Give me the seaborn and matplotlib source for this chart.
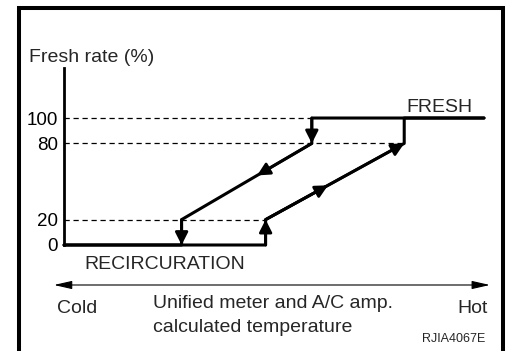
import matplotlib
matplotlib.use("Agg")
import matplotlib.pyplot as plt
from matplotlib.lines import Line2D
import seaborn as sns

# fresh rate levels shown on the y axis
rate_levels = [0, 20, 80, 100]
rate_labels = ["0", "20", "80", "100"]

# temperature going up: recirc -> fresh
heat_x = [0, 48, 48, 81, 81, 100]
heat_y = [0, 0, 20, 80, 100, 100]
# temperature going down: fresh -> recirc
cool_x = [100, 59, 59, 28, 28, 0]
cool_y = [100, 100, 80, 20, 0, 0]

# dashed guides (level, where they stop)
guide_y = [100, 80, 20]
guide_end = [59, 81, 48]

# arrow heads: segment start, segment end, where the tip sits along it
arrows = [
    ((48, 0), (48, 20), 1.0),
    ((48, 20), (81, 80), 0.45),
    ((48, 20), (81, 80), 1.0),
    ((59, 100), (59, 80), 1.0),
    ((59, 80), (28, 20), 0.42),
    ((28, 20), (28, 0), 1.0),
]

sns.set_theme(style="white")
plt.rcParams["font.family"] = ["Liberation Sans", "DejaVu Sans"]

fig = plt.figure(figsize=(5.08, 3.51), dpi=100)
fig.patch.set_facecolor("white")
ax = fig.add_axes([0.1260, 0.3020, 0.8268, 0.5043])
ax.set_xlim(0, 100)
ax.set_ylim(0, 139.4)

# outer frame (open at the bottom)
fig.add_artist(Line2D([0.0374, 0.0374, 0.9905, 0.9905], [0, 0.9786, 0.9786, 0],
                      transform=fig.transFigure, lw=2.9, color="black",
                      solid_joinstyle="miter"))

for s in ["top", "right", "bottom"]:
    ax.spines[s].set_visible(False)
ax.spines["left"].set_linewidth(2.0)
ax.spines["left"].set_color("black")
ax.set_xticks([])
ax.set_yticks(rate_levels, rate_labels)
ax.tick_params(axis="y", length=0, pad=4.3, labelsize=13.5, colors="black")
ax.set_xlabel("")
ax.set_ylabel("")

ax.hlines(guide_y, 0, guide_end, colors="black", lw=0.9,
          linestyles=(0, (4.2, 3.0)))

sns.lineplot(x=heat_x, y=heat_y, sort=False, estimator=None, ax=ax,
             color="black", lw=2.2, clip_on=False)
sns.lineplot(x=cool_x, y=cool_y, sort=False, estimator=None, ax=ax,
             color="black", lw=2.2, clip_on=False)

for (x0, y0), (x1, y1), f in arrows:
    tip = (x0 + f * (x1 - x0), y0 + f * (y1 - y0))
    ax.annotate("", xy=tip, xytext=(x0, y0),
                arrowprops=dict(arrowstyle="-|>,head_length=0.75,head_width=0.38",
                                mutation_scale=10, lw=2.0, color="black",
                                shrinkA=0, shrinkB=0))

# temperature axis (double arrow)
ax.annotate("", xy=(101.4, -31.5), xytext=(-2.4, -31.5), annotation_clip=False,
            arrowprops=dict(arrowstyle="<|-|>,head_length=1.1,head_width=0.25",
                            mutation_scale=10, lw=0.8, color="black",
                            shrinkA=0, shrinkB=0))

fs = 14
ax.text(-8.3, 144, "Fresh rate (%)", fontsize=fs, ha="left", va="baseline",
        clip_on=False)
ax.text(81.4, 104.7, "FRESH", fontsize=fs, ha="left", va="baseline")
ax.text(4.8, -18.9, "RECIRCURATION", fontsize=fs, ha="left", va="baseline",
        clip_on=False)
ax.text(-1.7, -53.5, "Cold", fontsize=fs, ha="left", va="baseline",
        clip_on=False)
ax.text(93.6, -53.5, "Hot", fontsize=fs, ha="left", va="baseline",
        clip_on=False)
ax.text(21.2, -49.6, "Unified meter and A/C amp.", fontsize=fs, ha="left",
        va="baseline", clip_on=False)
ax.text(21.2, -68.5, "calculated temperature", fontsize=fs, ha="left",
        va="baseline", clip_on=False)
ax.text(100.2, -76.4, "RJIA4067E", fontsize=9, ha="right", va="baseline",
        clip_on=False)

fig.savefig("out.png", dpi=100, facecolor="white")
